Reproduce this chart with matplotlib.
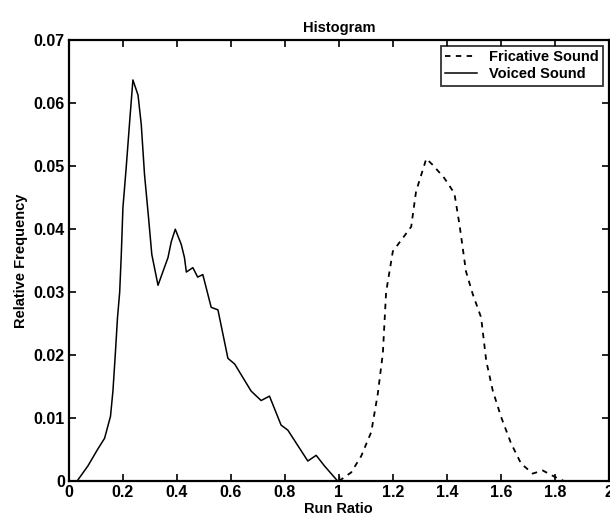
import matplotlib.pyplot as plt
from matplotlib.ticker import FixedLocator

# === Curve values ===
voiced_x = [0.03, 0.07, 0.107, 0.132, 0.154, 0.163, 0.172, 0.18, 0.188, 0.194, 0.2,
            0.212, 0.225, 0.237, 0.256, 0.268, 0.28, 0.295, 0.307, 0.33, 0.367,
            0.379, 0.394, 0.416, 0.428, 0.435, 0.459, 0.477, 0.496, 0.527, 0.552,
            0.589, 0.614, 0.675, 0.712, 0.743, 0.786, 0.811, 0.885, 0.916, 0.947, 0.996]
voiced_y = [0.0, 0.0024, 0.0051, 0.0068, 0.0103, 0.0143, 0.0203, 0.026, 0.030, 0.036, 0.0434,
            0.0497, 0.0571, 0.0637, 0.0613, 0.0566, 0.0487, 0.0418, 0.036, 0.0311, 0.0355,
            0.038, 0.040, 0.0376, 0.0355, 0.0332, 0.0339, 0.0324, 0.0328, 0.0276, 0.0272,
            0.0195, 0.0186, 0.0143, 0.0128, 0.0135, 0.0089, 0.0081, 0.0032, 0.0041, 0.0024, 0.0]

fric_x = [1.0, 1.046, 1.083, 1.12, 1.144, 1.163, 1.175, 1.2, 1.237, 1.268, 1.286,
          1.324, 1.348, 1.391, 1.428, 1.447, 1.471, 1.496, 1.527, 1.546, 1.57,
          1.601, 1.638, 1.675, 1.718, 1.755, 1.799, 1.835]
fric_y = [0.0, 0.0014, 0.004, 0.0078, 0.0138, 0.0203, 0.030, 0.0365, 0.0386, 0.0404, 0.046,
          0.0512, 0.0502, 0.0481, 0.0457, 0.0407, 0.0333, 0.0297, 0.026, 0.0191, 0.0144,
          0.0102, 0.006, 0.0028, 0.0012, 0.0017, 0.0007, 0.0]

x_ticks = [0, 0.2, 0.4, 0.6, 0.8, 1, 1.2, 1.4, 1.6, 1.8, 2]
x_labels = ['0', '0.2', '0.4', '0.6', '0.8', '1', '1.2', '1.4', '1.6', '1.8', '2']
y_ticks = [0, 0.01, 0.02, 0.03, 0.04, 0.05, 0.06, 0.07]
y_labels = ['0', '0.01', '0.02', '0.03', '0.04', '0.05', '0.06', '0.07']

plt.rcParams['font.family'] = ['Liberation Sans Narrow', 'Liberation Sans', 'DejaVu Sans']

fig = plt.figure(figsize=(6.1, 5.23), dpi=100)
ax = fig.add_axes([0.113, 0.080, 0.885, 0.843])

ax.plot(fric_x, fric_y, color='black', linestyle=(0, (3, 3)), linewidth=1.3,
        label='Fricative Sound')
ax.plot(voiced_x, voiced_y, color='black', linestyle='-', linewidth=1.1,
        label='Voiced Sound')
ax.plot([1.0], [0.0], marker='+', color='black', markersize=7)

ax.set_xlim(0, 2)
ax.set_ylim(0, 0.07)
ax.xaxis.set_major_locator(FixedLocator(x_ticks))
ax.yaxis.set_major_locator(FixedLocator(y_ticks))
ax.set_xticklabels(x_labels, fontsize=11.5, fontweight='bold')
ax.set_yticklabels(y_labels, fontsize=11.5, fontweight='bold')
ax.tick_params(direction='in', top=True, right=True, length=5, width=1.2, pad=3)
for s in ax.spines.values():
    s.set_linewidth(1.6)

ax.set_title('Histogram', fontsize=10.5, fontweight='bold', pad=6)
ax.set_xlabel('Run Ratio', fontsize=10.5, fontweight='bold', labelpad=1)
ax.set_ylabel('Relative Frequency', fontsize=10.5, fontweight='bold', labelpad=4)

leg = ax.legend(loc='upper right', fontsize=10.5, frameon=True, fancybox=False,
                edgecolor='black', handlelength=2.2, borderpad=0.3,
                labelspacing=0.2, borderaxespad=0.4)
leg.get_frame().set_linewidth(1.3)
for t in leg.get_texts():
    t.set_fontweight('bold')

plt.savefig('out.png', dpi=100)
